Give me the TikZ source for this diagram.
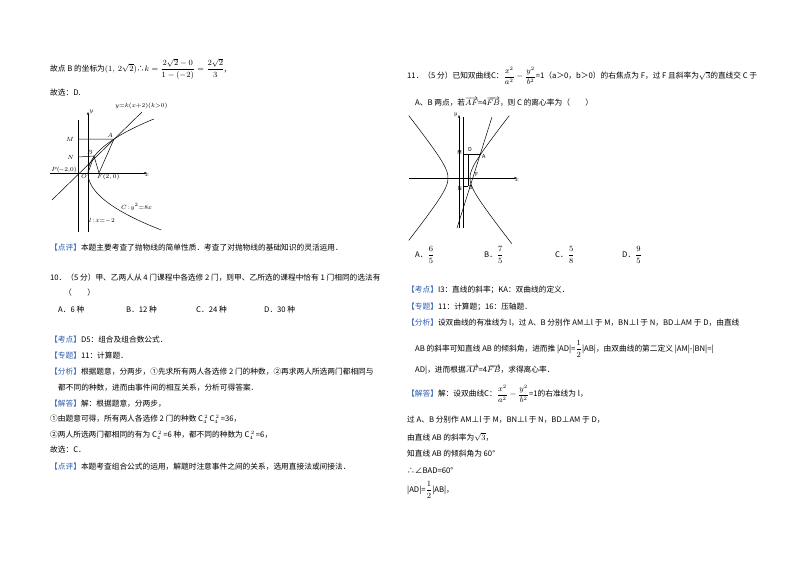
\documentclass[tikz,border=0pt]{standalone}
\usepackage{fontspec}
\setmainfont{Noto Sans CJK SC}
\usetikzlibrary{arrows.meta}
\definecolor{tagblue}{HTML}{2E5FB0}
\tikzset{txt/.style={anchor=west,inner sep=0,font=\fontsize{7.7}{9}\selectfont},
 lab/.style={inner sep=1pt,font=\fontsize{6}{7}\itshape\selectfont},
 ln/.style={line width=0.5pt},
 ax/.style={line width=0.5pt,-{Stealth[length=3pt]}}}
\newcommand{\tg}[1]{{\color{tagblue}【#1】}}
\newcommand{\fr}[2]{{\displaystyle\frac{#1}{#2}}}
\newcommand{\cc}{C$_4^{\,2}$\,}
\begin{document}
\begin{tikzpicture}[x=1pt,y=-1pt]
\useasboundingbox[fill=white](0,0) rectangle (800,565);
% ---------- left column ----------
\node[txt] (t1) at (50,69) {故点 B 的坐标为$(1,\ 2\sqrt2)$∴$k=\fr{2\sqrt2-0}{1-(-2)}=\fr{2\sqrt2}{3}$,};
\node[txt] (t2) at (50,93) {故选：D.};
% graph 1
\draw[ax] (50,173) -- (147,173) node[lab,anchor=north] {$x$};
\draw[ax] (88,232) -- (88,112) node[lab,anchor=west] {$y$};
\draw[ln] (78,120) -- (78,232);
\draw[ln,domain=-9.5:9,samples=60,smooth] plot ({88+6.5*\x*\x/8},{173-6*\x});
\coordinate (P) at (77,173); \coordinate (A) at (114,139); \coordinate (B) at (94,156); \coordinate (F) at (99,173); \coordinate (O) at (88,173);
\draw[ln] (52,200) -- (142,112);
\draw[ln] (78,139) -- (A) -- (F) -- (B) -- (O);
\draw[ln] (78,157) -- (B);
\node[lab,anchor=east] (Ml) at (75,139) {$M$};
\node[lab,anchor=east] (Nl) at (75,157) {$N$};
\node[lab,anchor=south east] at (A) {$A$};
\node[lab,anchor=south east] at (B) {$B$};
\node[lab,anchor=south east] at (78,174) {$P(\!-2,\!0)$};
\node[lab,anchor=north east] at (O) {$O$};
\node[lab,anchor=north west] at (96,173) {$F(2,0)$};
\node[lab,anchor=west] at (114,106) {$y{=}k(x{+}2)(k{>}0)$};
\node[lab,anchor=west] at (120,207) {$C\!:\!y^2{=}8x$};
\node[lab,anchor=west] at (88,221) {$l\!:\!x{=}{-}2$};
\node[txt] (t3) at (50,248) {\tg{点评}本题主要考查了抛物线的简单性质．考查了对抛物线的基础知识的灵活运用．};
\node[txt] (q10) at (50,278) {10．（5 分）甲、乙两人从 4 门课程中各选修 2 门，则甲、乙所选的课程中恰有 1 门相同的选法有};
\node[txt] at (64,293) {（\qquad）};
\node[txt] at (58,310) {A．6 种};
\node[txt] at (126,310) {B．12 种};
\node[txt] at (196,310) {C．24 种};
\node[txt] at (264,310) {D．30 种};
\node[txt] at (50,340) {\tg{考点}D5：组合及组合数公式．};
\node[txt] at (50,356) {\tg{专题}11：计算题．};
\node[txt] at (50,372) {\tg{分析}根据题意，分两步，①先求所有两人各选修 2 门的种数，②再求两人所选两门都相同与};
\node[txt] at (58,388) {都不同的种数，进而由事件间的相互关系，分析可得答案．};
\node[txt] at (50,404) {\tg{解答}解：根据题意，分两步，};
\node[txt] at (50,419) {①由题意可得，所有两人各选修 2 门的种数 \cc\cc=36，};
\node[txt] at (50,435) {②两人所选两门都相同的有为 \cc=6 种，都不同的种数为 \cc=6，};
\node[txt] at (50,450) {故选：C．};
\node[txt] at (50,467) {\tg{点评}本题考查组合公式的运用，解题时注意事件之间的关系，选用直接法或间接法．};
% ---------- right column ----------
\node[txt] (q11) at (407,76) {11．（5 分）已知双曲线C：$\fr{x^2}{a^2}-\fr{y^2}{b^2}$=1（a＞0，b＞0）的右焦点为 F，过 F 且斜率为$\sqrt3$的直线交 C 于};
\node[txt] at (415,102) {A、B 两点，若$\overrightarrow{AF}$=4$\overrightarrow{FB}$，则 C 的离心率为（\qquad）};
% graph 2
\draw[ax] (409,178) -- (517,178) node[lab,anchor=north] {$x$};
\draw[ax] (459,228) -- (459,115) node[lab,anchor=east] {$y$};
\draw[ln] (463,117) -- (463,228);
\draw[ln,domain=-2.2:2.2,samples=50,smooth] plot ({459-11*cosh(\x)},{178-14*sinh(\x)});
\draw[ln,domain=-2.25:2.2,samples=50,smooth] plot ({459+11*cosh(\x)},{178-14*sinh(\x)});
\draw[ln] (457,228) -- (492,117);
\coordinate (A2) at (481,154); \coordinate (B2) at (468,186); \coordinate (D2) at (468,154); \coordinate (F2) at (474,178);
\draw[ln] (463,154) -- (A2); \draw[ln] (D2) -- (B2); \draw[ln] (463,186) -- (B2);
\node[lab,anchor=east,font=\fontsize{5.5}{6}\selectfont] at (463,152) {M};
\node[lab,anchor=south,font=\fontsize{5.5}{6}\selectfont] at (470,153) {D};
\node[lab,anchor=west,font=\fontsize{5.5}{6}\selectfont] at (481,156) {A};
\node[lab,anchor=south west,font=\fontsize{5.5}{6}\selectfont] at (474,178) {F};
\node[lab,anchor=east,font=\fontsize{5.5}{6}\selectfont] at (463,188) {N};
\node[lab,anchor=west,font=\fontsize{5.5}{6}\selectfont] at (468,187) {B};
\node[txt] at (415,255) {A．$\fr{6}{5}$};
\node[txt] at (484,255) {B．$\fr{7}{5}$};
\node[txt] at (555,255) {C．$\fr{5}{8}$};
\node[txt] at (622,255) {D．$\fr{9}{5}$};
\node[txt] at (407,290) {\tg{考点}I3：直线的斜率；KA：双曲线的定义．};
\node[txt] at (407,307) {\tg{专题}11：计算题；16：压轴题．};
\node[txt] at (407,323) {\tg{分析}设双曲线的有准线为 l，过 A、B 分别作 AM⊥l 于 M，BN⊥l 于 N，BD⊥AM 于 D，由直线};
\node[txt] at (415,349) {AB 的斜率可知直线 AB 的倾斜角，进而推 |AD|=$\fr12$|AB|，由双曲线的第二定义 |AM|-|BN|=|};
\node[txt] at (415,370) {AD|，进而根据$\overrightarrow{AF}$=4$\overrightarrow{FB}$，求得离心率．};
\node[txt] at (407,394) {\tg{解答}解：设双曲线C：$\fr{x^2}{a^2}-\fr{y^2}{b^2}$=1的右准线为 l，};
\node[txt] at (407,420) {过 A、B 分别作 AM⊥l 于 M，BN⊥l 于 N，BD⊥AM 于 D，};
\node[txt] at (407,437) {由直线 AB 的斜率为$\sqrt3$，};
\node[txt] at (407,454) {知直线 AB 的倾斜角为 60°};
\node[txt] at (407,471) {∴∠BAD=60°};
\node[txt] at (407,490) {|AD|=$\fr12$|AB|，};
\end{tikzpicture}
\end{document}
